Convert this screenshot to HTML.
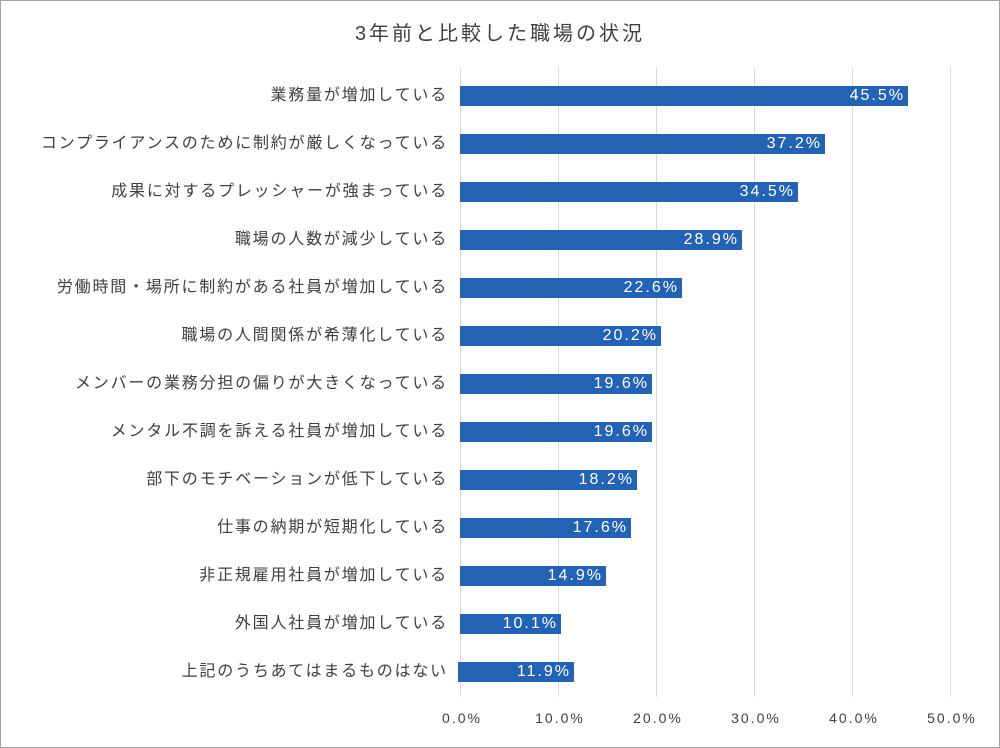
<!DOCTYPE html><html><head><meta charset="utf-8"><style>
body{margin:0;width:1000px;height:748px;background:#fff;font-family:"Liberation Sans","Noto Sans CJK JP",sans-serif;}
.f{position:absolute;left:0;top:0;width:998px;height:746px;border:1px solid #a6a6a6;}
.t{position:absolute;top:17px;left:0;width:1000px;text-align:center;font-size:20px;color:#404040;letter-spacing:3px;}
.g{position:absolute;top:68px;height:629px;width:1px;background:#d9d9d9;}
.l{position:absolute;right:552px;font-size:16px;letter-spacing:1.8px;color:#404040;white-space:nowrap;line-height:20px;}
.b{position:absolute;height:20px;background:#2462b4;color:#fff;font-size:16px;line-height:20px;text-align:right;box-sizing:border-box;padding-right:3px;letter-spacing:2px;}
.x{position:absolute;top:710px;font-size:14px;letter-spacing:2px;color:#404040;width:80px;text-align:center;}
</style></head><body><div class="f"></div>
<div class="t">3年前と比較した職場の状況</div>
<div class="g" style="left:460px"></div><div class="g" style="left:558px"></div><div class="g" style="left:656px"></div><div class="g" style="left:754px"></div><div class="g" style="left:852px"></div><div class="g" style="left:950px"></div>
<div class="x" style="left:422px">0.0%</div><div class="x" style="left:520px">10.0%</div><div class="x" style="left:618px">20.0%</div><div class="x" style="left:716px">30.0%</div><div class="x" style="left:814px">40.0%</div><div class="x" style="left:912px">50.0%</div>
<div class="l" style="top:86px">業務量が増加している</div><div class="b" style="top:86px;left:460px;width:448px">45.5%</div>
<div class="l" style="top:134px">コンプライアンスのために制約が厳しくなっている</div><div class="b" style="top:134px;left:460px;width:365px">37.2%</div>
<div class="l" style="top:182px">成果に対するプレッシャーが強まっている</div><div class="b" style="top:182px;left:460px;width:338px">34.5%</div>
<div class="l" style="top:230px">職場の人数が減少している</div><div class="b" style="top:230px;left:460px;width:282px">28.9%</div>
<div class="l" style="top:278px">労働時間・場所に制約がある社員が増加している</div><div class="b" style="top:278px;left:460px;width:222px">22.6%</div>
<div class="l" style="top:326px">職場の人間関係が希薄化している</div><div class="b" style="top:326px;left:460px;width:201px">20.2%</div>
<div class="l" style="top:374px">メンバーの業務分担の偏りが大きくなっている</div><div class="b" style="top:374px;left:460px;width:192px">19.6%</div>
<div class="l" style="top:422px">メンタル不調を訴える社員が増加している</div><div class="b" style="top:422px;left:460px;width:192px">19.6%</div>
<div class="l" style="top:470px">部下のモチベーションが低下している</div><div class="b" style="top:470px;left:460px;width:177px">18.2%</div>
<div class="l" style="top:518px">仕事の納期が短期化している</div><div class="b" style="top:518px;left:460px;width:171px">17.6%</div>
<div class="l" style="top:566px">非正規雇用社員が増加している</div><div class="b" style="top:566px;left:460px;width:146px">14.9%</div>
<div class="l" style="top:614px">外国人社員が増加している</div><div class="b" style="top:614px;left:460px;width:101px">10.1%</div>
<div class="l" style="top:662px">上記のうちあてはまるものはない</div><div class="b" style="top:662px;left:458px;width:116px">11.9%</div>
</body></html>
